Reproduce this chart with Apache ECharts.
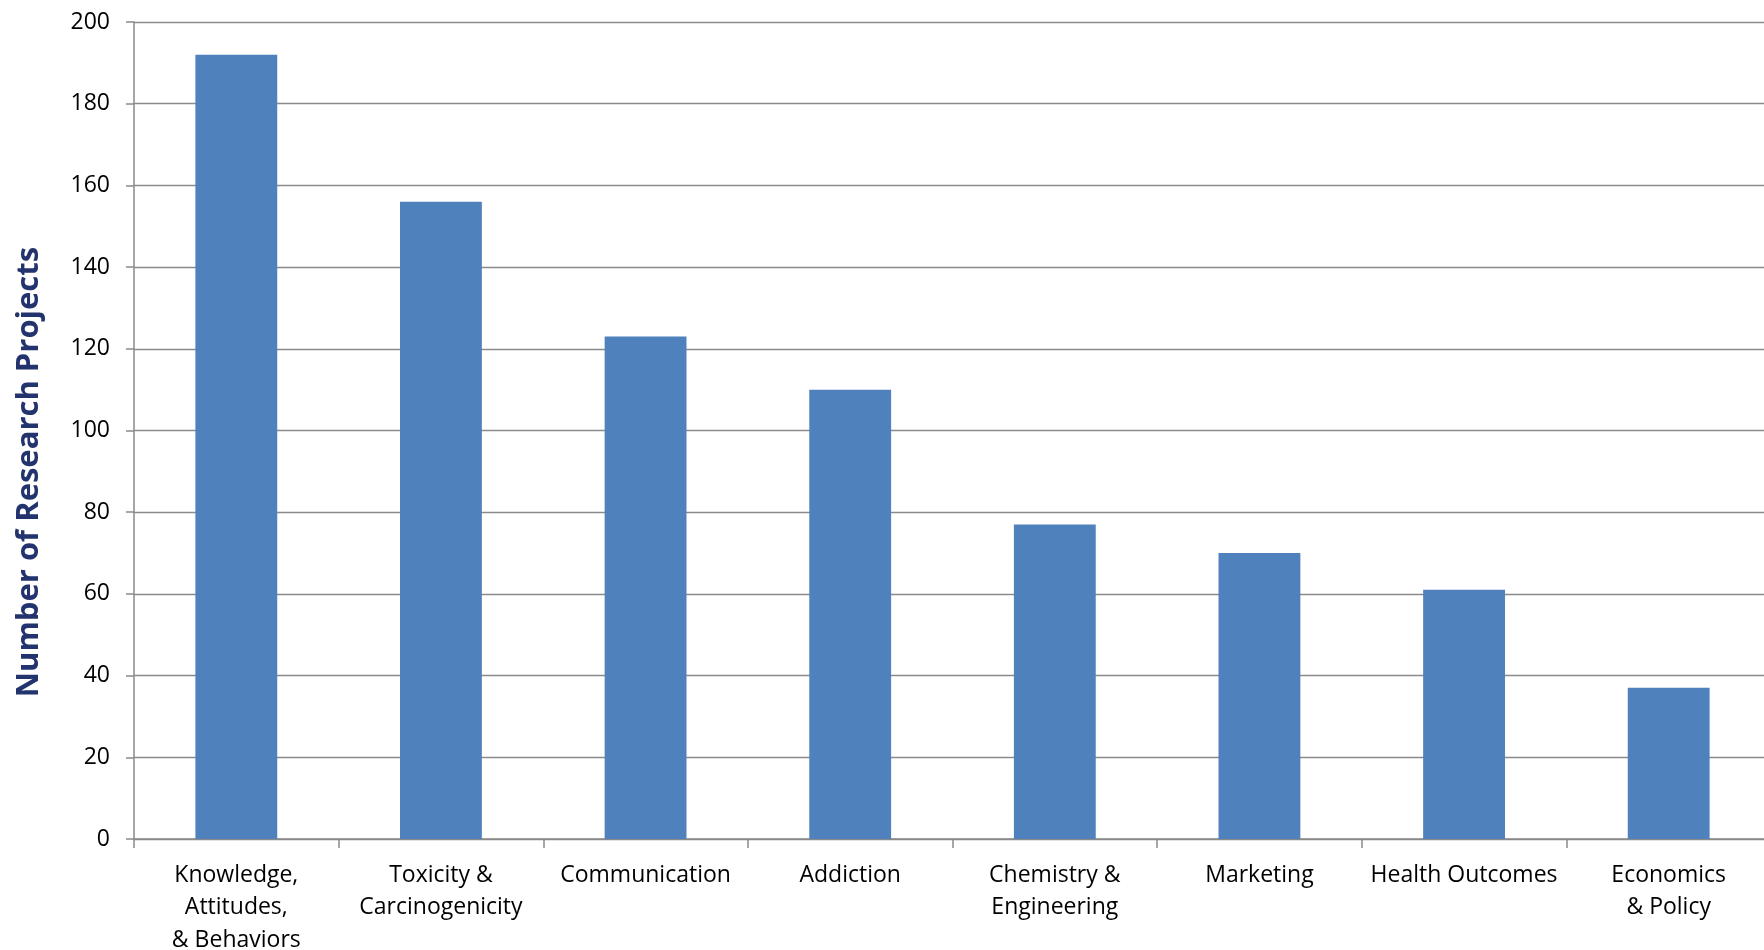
<!DOCTYPE html>
<html>
<head>
<meta charset="utf-8">
<script src="https://cdn.jsdelivr.net/npm/echarts@6/dist/echarts.min.js"></script>
<style>
html,body{margin:0;padding:0;background:#fff;}
#chart{width:1764px;height:950px;}
</style>
</head>
<body>
<div id="chart"></div>
<script>
const categories = [
  "Knowledge,\nAttitudes,\n& Behaviors",
  "Toxicity &\nCarcinogenicity",
  "Communication",
  "Addiction",
  "Chemistry &\nEngineering",
  "Marketing",
  "Health Outcomes",
  "Economics\n& Policy"
];
const projectCounts = [192, 156, 123, 110, 77, 70, 61, 37];
const yTicks = [0, 20, 40, 60, 80, 100, 120, 140, 160, 180, 200];
const yTitle = "Number of Research Projects";

const chart = echarts.init(document.getElementById('chart'), null, {renderer: 'canvas'});
const axisGray = '#8a8a8a';
const fontFam = '"Open Sans", "Liberation Sans", sans-serif';

chart.setOption({
  animation: false,
  grid: {left: 134, right: -7, top: 22, bottom: 111, containLabel: false, outerBoundsMode: 'none'},
  xAxis: {
    type: 'category',
    data: categories,
    axisLine: {lineStyle: {color: axisGray, width: 1.5}},
    axisTick: {show: true, length: 9, alignWithLabel: false, lineStyle: {color: axisGray, width: 1.5}},
    axisLabel: {
      color: '#000', fontFamily: fontFam, fontSize: 23, lineHeight: 32.6,
      margin: 20, interval: 0, align: 'center', verticalAlign: 'top'
    },
    splitLine: {show: false}
  },
  yAxis: {
    type: 'value',
    min: yTicks[0],
    max: yTicks[yTicks.length - 1],
    interval: yTicks[1] - yTicks[0],
    axisLine: {show: true, lineStyle: {color: axisGray, width: 1.5}},
    axisTick: {show: true, length: 8, lineStyle: {color: axisGray, width: 1.5}},
    axisLabel: {color: '#000', fontFamily: fontFam, fontSize: 23, margin: 24},
    splitLine: {show: true, lineStyle: {color: axisGray, width: 1.4}}
  },
  graphic: [{
    type: 'text',
    x: 29, y: 472,
    rotation: Math.PI / 2,
    style: {
      text: yTitle,
      fill: '#23336e',
      font: 'bold 31px ' + fontFam,
      textAlign: 'center',
      textVerticalAlign: 'middle'
    }
  }],
  series: [{
    type: 'bar',
    data: projectCounts,
    barWidth: '40%',
    itemStyle: {color: '#4f81bd'}
  }]
});
</script>
</body>
</html>
